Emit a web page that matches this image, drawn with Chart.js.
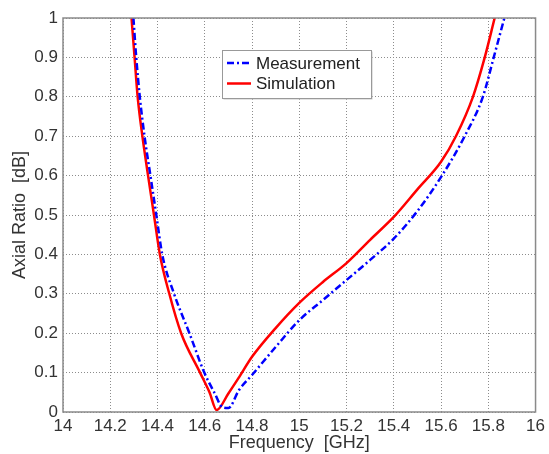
<!DOCTYPE html>
<html>
<head>
<meta charset="utf-8">
<script src="https://cdn.jsdelivr.net/npm/chart.js@4/dist/chart.umd.min.js"></script>
<style>
  html, body { margin: 0; padding: 0; background: #fff; }
  #wrap { width: 549px; height: 454px; }
</style>
</head>
<body>
<div id="wrap"><canvas id="arChart" width="549" height="454"></canvas></div>
<script>
// values
var measFreq = [14.298, 14.31, 14.325, 14.345, 14.37, 14.395, 14.42, 14.47, 14.535, 14.598, 14.64, 14.675, 14.70, 14.745, 14.8, 14.9, 15.0, 15.1, 15.2, 15.3, 15.4, 15.5, 15.604, 15.70, 15.777, 15.823, 15.868];
var measAR   = [1.0, 0.9, 0.8, 0.7, 0.6, 0.5, 0.4, 0.3, 0.2, 0.1, 0.05, 0.012, 0.01, 0.056, 0.094, 0.165, 0.233, 0.284, 0.335, 0.386, 0.44, 0.51, 0.6, 0.7, 0.8, 0.9, 1.0];

var simFreq = [14.29, 14.303, 14.316, 14.336, 14.36, 14.385, 14.41, 14.45, 14.50, 14.58, 14.62, 14.65, 14.7, 14.745, 14.8, 14.9, 15.0, 15.1, 15.2, 15.3, 15.4, 15.5, 15.6, 15.663, 15.735, 15.785, 15.827];
var simAR   = [1.0, 0.9, 0.8, 0.7, 0.6, 0.5, 0.4, 0.3, 0.2, 0.1, 0.05, 0.005, 0.047, 0.088, 0.14, 0.213, 0.277, 0.33, 0.378, 0.437, 0.495, 0.565, 0.635, 0.7, 0.8, 0.9, 1.0];

var xTickValues = [14, 14.2, 14.4, 14.6, 14.8, 15, 15.2, 15.4, 15.6, 15.8, 16];
var yTickValues = [0, 0.1, 0.2, 0.3, 0.4, 0.5, 0.6, 0.7, 0.8, 0.9, 1];

var seriesNames = ['Measurement', 'Simulation'];

var FONT = 'Liberation Sans, Arial, sans-serif';

function pairs(xs, ys) {
    var out = [];
    for (var i = 0; i < xs.length; i++) out.push({x: xs[i], y: ys[i]});
    return out;
}

// frame round the plot area and the legend box inside it
var framePlugin = {
    id: 'frame',
    afterDraw: function(chart) {
        var ctx = chart.ctx;
        var a = chart.chartArea;
        ctx.save();
        ctx.strokeStyle = '#8a8a8a';
        ctx.lineWidth = 1.5;
        ctx.strokeRect(a.left, a.top, a.right - a.left, a.bottom - a.top);

        // legend
        var bx = 222, by = 50, bw = 149, bh = 48;
        ctx.fillStyle = '#c8c8c8';
        ctx.fillRect(bx + 1.5, by + 1.5, bw, bh);
        ctx.fillStyle = '#fff';
        ctx.fillRect(bx, by, bw, bh);
        ctx.strokeStyle = '#999';
        ctx.lineWidth = 1;
        ctx.strokeRect(bx + 0.5, by + 0.5, bw, bh);
        ctx.font = '17px ' + FONT;
        ctx.textBaseline = 'middle';
        chart.data.datasets.forEach(function(ds, i) {
            var y = by + 13 + i * 20.5;
            ctx.beginPath();
            ctx.strokeStyle = ds.borderColor;
            ctx.lineWidth = ds.borderWidth;
            ctx.setLineDash(ds.borderDash || []);
            ctx.moveTo(bx + 5, y);
            ctx.lineTo(bx + 29, y);
            ctx.stroke();
            ctx.setLineDash([]);
            ctx.fillStyle = '#222';
            ctx.fillText(ds.label, bx + 34, y + 1);
        });
        ctx.restore();
    }
};

document.addEventListener('DOMContentLoaded', function() {
    var ctx = document.getElementById('arChart').getContext('2d');

    var gridOpts = {
        color: '#8c8c8c',
        lineWidth: 1,
        drawTicks: false
    };
    // in v4 the grid line dash lives under border.dash
    var borderOpts = { display: false, dash: [1, 2] };

    new Chart(ctx, {
        type: 'line',
        data: {
            datasets: [{
                label: seriesNames[0],
                data: pairs(measFreq, measAR),
                borderColor: '#0000ff',
                borderWidth: 2.5,
                borderDash: [7, 3, 2, 3],
                pointRadius: 0,
                fill: false,
                cubicInterpolationMode: 'monotone'
            }, {
                label: seriesNames[1],
                data: pairs(simFreq, simAR),
                borderColor: '#ff0000',
                borderWidth: 2.5,
                pointRadius: 0,
                fill: false,
                cubicInterpolationMode: 'monotone'
            }]
        },
        options: {
            responsive: false,
            animation: false,
            events: [],
            layout: { padding: { top: 18, right: 11, left: 0, bottom: 0 } },
            plugins: {
                legend: { display: false },
                tooltip: { enabled: false }
            },
            scales: {
                x: {
                    type: 'linear',
                    min: 14,
                    max: 16,
                    afterBuildTicks: function(scale) {
                        scale.ticks = xTickValues.map(function(v) { return {value: v}; });
                    },
                    afterFit: function(scale) { scale.height = 42; },
                    grid: gridOpts,
                    border: borderOpts,
                    ticks: {
                        color: '#333',
                        padding: 4,
                        maxRotation: 0,
                        font: { family: FONT, size: 17 },
                        callback: function(v) { return String(v); }
                    },
                    title: {
                        display: true,
                        text: 'Frequency  [GHz]',
                        color: '#333',
                        padding: { top: 0, bottom: 0 },
                        font: { family: FONT, size: 18 }
                    }
                },
                y: {
                    type: 'linear',
                    min: 0,
                    max: 1,
                    afterBuildTicks: function(scale) {
                        scale.ticks = yTickValues.map(function(v) { return {value: v}; });
                    },
                    afterFit: function(scale) { scale.width = 63; },
                    grid: gridOpts,
                    border: borderOpts,
                    ticks: {
                        color: '#333',
                        padding: 5,
                        font: { family: FONT, size: 17 },
                        callback: function(v) { return String(v); }
                    },
                    title: {
                        display: true,
                        text: 'Axial Ratio  [dB]',
                        color: '#333',
                        padding: { top: 9, bottom: 0 },
                        font: { family: FONT, size: 18 }
                    }
                }
            }
        },
        plugins: [framePlugin]
    });
});
</script>
</body>
</html>
